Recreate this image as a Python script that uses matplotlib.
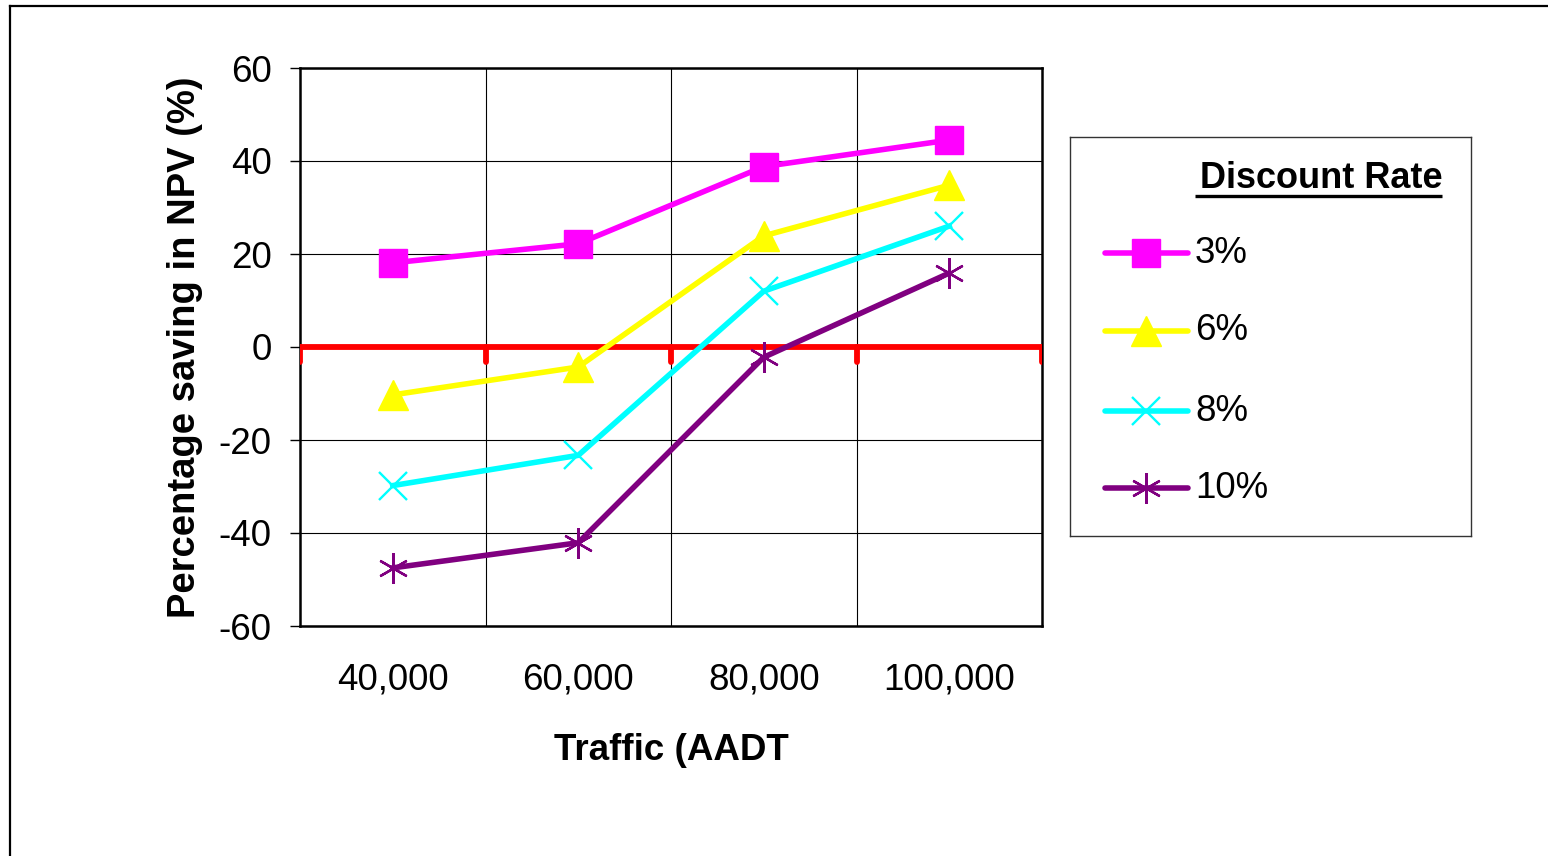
"""Percentage saving in NPV vs traffic (AADT) for several discount rates."""

import matplotlib

matplotlib.use("Agg")
import matplotlib.pyplot as plt
from matplotlib.lines import Line2D

plt.rcParams["font.family"] = ["Liberation Sans", "DejaVu Sans"]
plt.rcParams["axes.unicode_minus"] = False

# dados
trafego = ["40,000", "60,000", "80,000", "100,000"]
taxas = ["3%", "6%", "8%", "10%"]
economia_3 = [18.1, 22.2, 38.8, 44.5]
economia_6 = [-10.3, -4.3, 23.9, 34.8]
economia_8 = [-29.8, -23.3, 12.0, 26.0]
economia_10 = [-47.5, -42.1, -2.2, 15.9]
y_ticks = [-60, -40, -20, 0, 20, 40, 60]

series = [economia_3, economia_6, economia_8, economia_10]
estilos = [
    dict(color="#FF00FF", marker="s", ms=20, mec="#FF00FF", mfc="#FF00FF"),
    dict(color="#FFFF00", marker="^", ms=21, mec="#FFFF00", mfc="#FFFF00"),
    dict(color="#00FFFF", marker="x", ms=20, mew=1.7, mec="#00FFFF"),
    dict(color="#800080", marker=(6, 2, 0), ms=22, mew=1.7, mec="#800080"),
]

fig = plt.figure(figsize=(15.48, 8.56), dpi=100)
ax = fig.add_axes([300 / 1548, 1 - 626 / 856, 742 / 1548, 558 / 856])

x = list(range(len(trafego)))
for valores, st in zip(series, estilos):
    ax.plot(x, valores, lw=4.0, zorder=4, clip_on=False, **st)

# eixo de categorias (y = 0) em vermelho, com marcas entre categorias
limites = [i - 0.5 for i in range(len(trafego) + 1)]
ax.axhline(0, color="#FF0000", lw=4.2, zorder=3)
ax.vlines(limites, -3.2, 0, color="#FF0000", lw=4.2, zorder=3, capstyle="round")

ax.set_xlim(-0.5, len(trafego) - 0.5)
ax.set_ylim(-60, 60)
ax.set_yticks(y_ticks)
ax.set_yticklabels([str(v) for v in y_ticks])
ax.set_xticks(x)
ax.set_xticklabels(trafego)
ax.set_xticks(limites[1:-1], minor=True)
ax.grid(True, which="minor", axis="x", color="black", lw=0.8)
ax.grid(True, which="major", axis="y", color="black", lw=0.8)
ax.set_axisbelow(True)
ax.tick_params(axis="x", which="both", length=0, pad=26, labelsize=26.5)
ax.tick_params(axis="y", length=7.5, width=1, pad=13, labelsize=26.5)
for sp in ax.spines.values():
    sp.set_linewidth(1.8)

ax.set_xlabel("Traffic (AADT", fontsize=26.5, fontweight="bold", labelpad=26)
ax.set_ylabel("Percentage saving in NPV (%)", fontsize=27.5, fontweight="bold", labelpad=11)

# legenda desenhada à mão para reproduzir o layout do Excel
lg = fig.add_axes([1070 / 1548, 1 - 536 / 856, 401 / 1548, 399 / 856])
lg.set_xlim(0, 1)
lg.set_ylim(0, 1)
lg.set_xticks([])
lg.set_yticks([])
for sp in lg.spines.values():
    sp.set_linewidth(1.0)
    sp.set_color("#333333")
linhas_y = [0.709, 0.514, 0.313, 0.120]
for rotulo, st, yy in zip(taxas, estilos, linhas_y):
    lg.plot([0.087, 0.294], [yy, yy], lw=4.0, solid_capstyle="round", color=st["color"])
    lg.plot([0.19], [yy], lw=0, **{k: v for k, v in st.items() if k != "color"})
    lg.text(0.312, yy, rotulo, fontsize=26.5, va="center", ha="left")
lg.text(0.928, 0.897, "Discount Rate", fontsize=26, fontweight="bold",
        ha="right", va="center")
lg.plot([0.312, 0.928], [0.853, 0.853], color="black", lw=2.4, solid_capstyle="butt")

# moldura externa (borda superior e esquerda)
fig.add_artist(Line2D([10 / 1548, 1], [1 - 6 / 856, 1 - 6 / 856], color="black", lw=1.6))
fig.add_artist(Line2D([10 / 1548, 10 / 1548], [0, 1 - 6 / 856], color="black", lw=1.6))

fig.savefig("out.png", dpi=100)
